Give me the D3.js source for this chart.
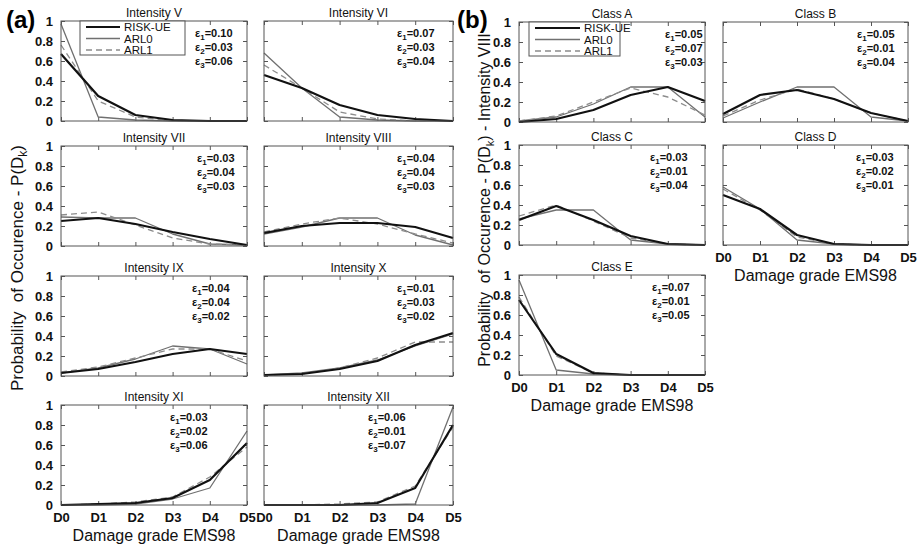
<!DOCTYPE html>
<html>
<head>
<meta charset="utf-8">
<script src="https://cdn.jsdelivr.net/npm/d3@7"></script>
<style>
body { margin: 0; background: #fff; }
svg { font-family: "Liberation Sans", Arial, Helvetica, sans-serif; }
</style>
</head>
<body>
<div id="chart"></div>
<script>
// damage grades and y ticks
const grades = ["D0", "D1", "D2", "D3", "D4", "D5"];
const yTickValues = [0, 0.2, 0.4, 0.6, 0.8, 1];
const yTickLabels = ["0", "0.2", "0.4", "0.6", "0.8", "1"];
const seriesNames = ["RISK-UE", "ARL0", "ARL1"];

// (a) intensities
const intensityTitles = ["Intensity V", "Intensity VI", "Intensity VII", "Intensity VIII",
  "Intensity IX", "Intensity X", "Intensity XI", "Intensity XII"];
const intensityRiskUE = [
  [0.67, 0.25, 0.06, 0.01, 0.00, 0.00],
  [0.46, 0.33, 0.16, 0.06, 0.02, 0.00],
  [0.25, 0.28, 0.22, 0.14, 0.07, 0.01],
  [0.13, 0.20, 0.23, 0.23, 0.19, 0.08],
  [0.03, 0.07, 0.14, 0.22, 0.27, 0.22],
  [0.01, 0.02, 0.07, 0.15, 0.31, 0.43],
  [0.00, 0.01, 0.02, 0.07, 0.25, 0.62],
  [0.00, 0.00, 0.00, 0.02, 0.17, 0.80]
];
const intensityARL0 = [
  [0.97, 0.04, 0.01, 0.00, 0.00, 0.00],
  [0.68, 0.33, 0.04, 0.01, 0.00, 0.00],
  [0.29, 0.28, 0.28, 0.12, 0.02, 0.01],
  [0.12, 0.19, 0.28, 0.28, 0.11, 0.01],
  [0.03, 0.08, 0.17, 0.30, 0.27, 0.12],
  [0.01, 0.03, 0.08, 0.16, 0.30, 0.42],
  [0.00, 0.00, 0.01, 0.06, 0.17, 0.74],
  [0.00, 0.00, 0.00, 0.00, 0.01, 0.98]
];
const intensityARL1 = [
  [0.76, 0.20, 0.04, 0.00, 0.00, 0.00],
  [0.56, 0.33, 0.09, 0.02, 0.00, 0.00],
  [0.31, 0.34, 0.21, 0.08, 0.02, 0.01],
  [0.14, 0.22, 0.28, 0.22, 0.12, 0.03],
  [0.04, 0.09, 0.18, 0.27, 0.27, 0.15],
  [0.01, 0.02, 0.08, 0.18, 0.34, 0.34],
  [0.00, 0.01, 0.03, 0.08, 0.28, 0.58],
  [0.00, 0.00, 0.01, 0.03, 0.19, 0.78]
];
const intensityEps = [
  [0.10, 0.03, 0.06], [0.07, 0.03, 0.04], [0.03, 0.04, 0.03], [0.04, 0.04, 0.03],
  [0.04, 0.04, 0.02], [0.01, 0.03, 0.02], [0.03, 0.02, 0.06], [0.06, 0.01, 0.07]
];

// (b) building classes, intensity VIII
const classTitles = ["Class A", "Class B", "Class C", "Class D", "Class E"];
const classRiskUE = [
  [0.00, 0.03, 0.12, 0.27, 0.35, 0.21],
  [0.08, 0.27, 0.32, 0.23, 0.09, 0.01],
  [0.25, 0.39, 0.25, 0.09, 0.01, 0.00],
  [0.50, 0.36, 0.10, 0.01, 0.00, 0.00],
  [0.75, 0.21, 0.02, 0.00, 0.00, 0.00]
];
const classARL0 = [
  [0.01, 0.05, 0.18, 0.35, 0.35, 0.05],
  [0.04, 0.20, 0.35, 0.35, 0.05, 0.01],
  [0.26, 0.35, 0.35, 0.05, 0.01, 0.00],
  [0.58, 0.36, 0.05, 0.01, 0.00, 0.00],
  [0.95, 0.05, 0.01, 0.00, 0.00, 0.00]
];
const classARL1 = [
  [0.01, 0.06, 0.20, 0.34, 0.25, 0.07],
  [0.06, 0.22, 0.33, 0.23, 0.09, 0.01],
  [0.29, 0.40, 0.24, 0.07, 0.01, 0.00],
  [0.56, 0.35, 0.08, 0.01, 0.00, 0.00],
  [0.78, 0.19, 0.02, 0.00, 0.00, 0.00]
];
const classEps = [
  [0.05, 0.07, 0.03], [0.05, 0.01, 0.04], [0.03, 0.01, 0.04], [0.03, 0.02, 0.01], [0.07, 0.01, 0.05]
];

var WIDTH = 919, HEIGHT = 546;
const svg = d3.select("#chart").append("svg").attr("width", WIDTH).attr("height", HEIGHT)

const lineStyle = {
  "RISK-UE": { stroke: "#111", width: 2.2, dash: null },
  "ARL0": { stroke: "#707070", width: 1.3, dash: null },
  "ARL1": { stroke: "#8c8c8c", width: 1.3, dash: "6,4" }
}
const BOX = "#555"
const fmt = d3.format(".2f")

function drawPanel(x0, y0, w, h, title, series, eps, opt) {
  const g = svg.append("g").attr("transform", "translate(" + x0 + "," + y0 + ")")
  const x = d3.scalePoint().domain(grades).range([0, w]).padding(0)
  const y = d3.scaleLinear().domain([0, 1]).range([h, 0])

  g.append("rect").attr("width", w).attr("height", h).attr("fill", "#fff")

  // inward ticks on all four sides
  const left = d3.axisLeft(y).tickValues(yTickValues).tickSizeInner(-4).tickSizeOuter(0).tickPadding(8)
    .tickFormat((d, i) => opt.yLabels ? yTickLabels[i] : "")
  const right = d3.axisRight(y).tickValues(yTickValues).tickSizeInner(-4).tickSizeOuter(0).tickFormat("")
  const bottom = d3.axisBottom(x).tickSizeInner(-4).tickSizeOuter(0).tickPadding(6)
    .tickFormat(d => opt.xLabels ? d : "")
  const top = d3.axisTop(x).tickSizeInner(-4).tickSizeOuter(0).tickFormat("")

  g.append("g").attr("class", "y axis").call(left)
  g.append("g").attr("transform", "translate(" + w + ",0)").call(right)
  g.append("g").attr("class", "x axis").attr("transform", "translate(0," + h + ")").call(bottom)
  g.append("g").call(top)
  g.selectAll(".domain").remove()
  g.selectAll(".tick line").attr("stroke", BOX)
  g.selectAll(".tick text").attr("fill", "#111").style("font-size", "13px").style("font-weight", "bold")
  g.selectAll(".x.axis .tick text").attr("dy", "0.85em")

  const line = d3.line().x((d, i) => x(grades[i])).y(d => y(d))
  ;["ARL0", "ARL1", "RISK-UE"].forEach(name => {
    const s = lineStyle[name]
    g.append("path").datum(series[name]).attr("d", line).attr("fill", "none")
      .attr("stroke", s.stroke).attr("stroke-width", s.width)
      .attr("stroke-dasharray", s.dash).attr("stroke-linejoin", "round")
  })

  g.append("rect").attr("width", w).attr("height", h).attr("fill", "none").attr("stroke", BOX).attr("stroke-width", 1)

  g.append("text").attr("x", w / 2).attr("y", -4).attr("text-anchor", "middle")
    .style("font-size", "12px").attr("fill", "#111").text(title)

  // epsilon values
  eps.forEach((v, i) => {
    const t = g.append("text").attr("x", w - opt.epsDx).attr("y", 16 + i * 14)
      .style("font-size", "11px").style("font-weight", "bold").attr("fill", "#111")
    t.append("tspan").text("\u03b5")
    t.append("tspan").attr("dy", 3).style("font-size", "8px").text(i + 1)
    t.append("tspan").attr("dy", -3).text("=" + fmt(v))
  })

  if (opt.xTitle) {
    g.append("text").attr("x", w / 2).attr("y", h + 36).attr("text-anchor", "middle")
      .style("font-size", "16px").attr("fill", "#111").text("Damage grade EMS98")
  }

  if (opt.legend) {
    const L = opt.legend
    const lg = g.append("g").attr("transform", "translate(" + L.x + ",0)")
    lg.append("rect").attr("width", L.w).attr("height", 34).attr("fill", "#fff").attr("stroke", BOX)
    seriesNames.forEach((name, i) => {
      const s = lineStyle[name]
      const yy = 6 + i * 11.5
      lg.append("line").attr("x1", 6).attr("x2", L.lineW).attr("y1", yy).attr("y2", yy)
        .attr("stroke", s.stroke).attr("stroke-width", s.width).attr("stroke-dasharray", s.dash)
      lg.append("text").attr("x", L.lineW + 4).attr("y", yy).attr("dy", "0.35em")
        .style("font-size", "11.5px").attr("fill", "#111").text(name)
    })
  }
}

// layout of panel group (a)
const colA = [61, 264], widA = [186, 189], rowA = [21, 146, 276, 405]
const epsDxA = [52, 56, 50, 56, 55, 56, 77, 85]
intensityTitles.forEach((title, i) => {
  const c = i % 2, r = Math.floor(i / 2)
  drawPanel(colA[c], rowA[r], widA[c], 100, title,
    { "RISK-UE": intensityRiskUE[i], "ARL0": intensityARL0[i], "ARL1": intensityARL1[i] },
    intensityEps[i],
    { yLabels: c === 0, xLabels: r === 3, xTitle: r === 3, epsDx: epsDxA[i],
      legend: i === 0 ? { x: 19, w: 105, lineW: 40 } : null })
})

// layout of panel group (b)
const colB = [519, 723], widB = [186, 185], rowB = [22, 145, 275]
const epsDxB = [40, 51, 55, 52, 53]
classTitles.forEach((title, i) => {
  const c = i % 2, r = Math.floor(i / 2)
  const bottomRow = (i === 3 || i === 4)
  drawPanel(colB[c], rowB[r], widB[c], 100, title,
    { "RISK-UE": classRiskUE[i], "ARL0": classARL0[i], "ARL1": classARL1[i] },
    classEps[i],
    { yLabels: c === 0, xLabels: bottomRow, xTitle: bottomRow, epsDx: epsDxB[i],
      legend: i === 0 ? { x: 10, w: 91, lineW: 51 } : null })
})

// panel letters
svg.append("text").attr("x", 6).attr("y", 28).style("font-size", "24px").style("font-weight", "bold").text("(a)")
svg.append("text").attr("x", 457).attr("y", 28).style("font-size", "24px").style("font-weight", "bold").text("(b)")

// y axis labels
function yLabel(cx, cy, size, extra) {
  const t = svg.append("text").attr("transform", "translate(" + cx + "," + cy + ") rotate(-90)")
    .attr("text-anchor", "middle").style("font-size", size + "px").attr("fill", "#111")
  t.append("tspan").text("Probability  of Occurence - P(D").style("white-space", "pre")
  t.append("tspan").attr("dy", 4).style("font-size", (size - 5) + "px").text("k")
  t.append("tspan").attr("dy", -4).text(")" + extra)
}
yLabel(23, 268, 17, "")
yLabel(490, 200, 16, " - Intensity VIII")
</script>
</body>
</html>
